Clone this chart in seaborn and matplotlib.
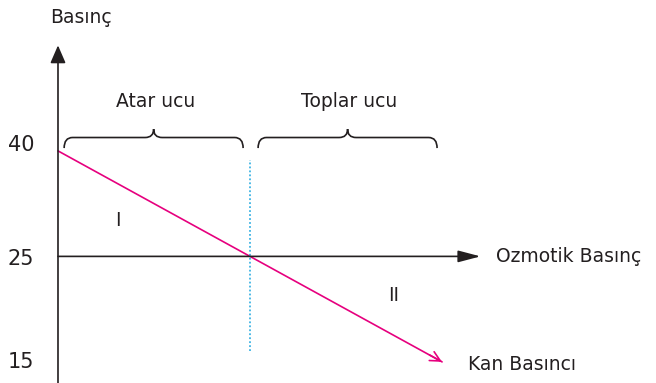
import numpy as np
import seaborn as sns
import matplotlib.pyplot as plt
from matplotlib.path import Path
from matplotlib.patches import PathPatch

# schematic values (capillary position vs pressure)
capillary_x = [0, 10]
blood_pressure = [40, 15]
osmotic_x = [0, 11]
osmotic_pressure = [25, 25]
divider_x = [5, 5]
divider_y = [38.7, 16]
pressure_ticks = [40, 25, 15]
tick_nudge = [4, -2, 0]   # points, labels sit a bit off their level in the original
region_labels = ["Atar ucu", "Toplar ucu"]
region_spans = [(0.16, 4.82), (5.21, 9.87)]

INK = "#231f20"
PINK = "#e6007e"
CYAN = "#3fb4e4"

sns.set_style("white")
plt.rcParams["font.family"] = ["DejaVu Sans"]


# the drawing is schematic: 15..25 and 25..40 take the same height
def fwd(y):
    y = np.asarray(y, dtype=float)
    return np.where(y <= 25, (y - 15) / 10, 1 + (y - 25) / 15)


def inv(d):
    d = np.asarray(d, dtype=float)
    return np.where(d <= 1, 15 + 10 * d, 25 + 15 * (d - 1))


fig = plt.figure(figsize=(6.56, 3.83), dpi=100)
ax = fig.add_axes([0, 0, 1, 1])
ax.set_yscale("function", functions=(fwd, inv))
ax.set_xlim(-1.51, 15.57)
ax.set_ylim(13, 61.45)
ax.axis("off")

# axes with arrow heads
ax.annotate("", xy=(0, 55), xytext=(0, 13),
            arrowprops=dict(arrowstyle="-|>,head_length=0.6,head_width=0.26",
                            mutation_scale=18, color=INK, lw=1.2,
                            shrinkA=0, shrinkB=0))
ax.annotate("", xy=(osmotic_x[1], osmotic_pressure[1]),
            xytext=(osmotic_x[0], osmotic_pressure[0]),
            arrowprops=dict(arrowstyle="-|>,head_length=0.76,head_width=0.2",
                            mutation_scale=18, color=INK, lw=1.2,
                            shrinkA=0, shrinkB=0))

# blood pressure line
sns.lineplot(x=capillary_x, y=blood_pressure, color=PINK, lw=1.2, ax=ax)
ax.annotate("", xy=(capillary_x[1], blood_pressure[1]), xytext=(-9, 5),
            textcoords="offset points",
            arrowprops=dict(arrowstyle="->,head_length=0.6,head_width=0.3",
                            mutation_scale=12, color=PINK, lw=1.2,
                            shrinkA=0, shrinkB=0))

# dotted divider
sns.lineplot(x=divider_x, y=divider_y, color=CYAN, lw=1.3,
             linestyle=(0, (1, 1.2)), ax=ax, orient="y")


# curly braces
def brace(x0, x1, yflat, yend, ytip, r=0.22):
    xm = (x0 + x1) / 2
    verts = [(x0, yend), (x0, yflat), (x0 + r, yflat),
             (xm - r, yflat),
             (xm, yflat), (xm, ytip),
             (xm, yflat), (xm + r, yflat),
             (x1 - r, yflat),
             (x1, yflat), (x1, yend)]
    codes = [Path.MOVETO, Path.CURVE3, Path.CURVE3,
             Path.LINETO,
             Path.CURVE3, Path.CURVE3,
             Path.CURVE3, Path.CURVE3,
             Path.LINETO,
             Path.CURVE3, Path.CURVE3]
    return PathPatch(Path(verts, codes), fill=False, ec=INK, lw=1.2)


for (x0, x1), lab in zip(region_spans, region_labels):
    ax.add_patch(brace(x0, x1, 41.9, 40.4, 43.1))
    ax.text((x0 + x1) / 2 + 0.05, 46.97, lab, ha="center", va="center",
            fontsize=13.5, color=INK)

# texts
for v, dy in zip(pressure_ticks, tick_nudge):
    ax.annotate(str(v), xy=(-0.96, v), xytext=(0, dy), textcoords="offset points",
                ha="center", va="center", fontsize=15, color=INK)

ax.text(-0.21, 58.9, "Basınç", ha="left", va="center", fontsize=13.5, color=INK)
ax.text(11.41, 25, "Ozmotik Basınç", ha="left", va="center", fontsize=13.5, color=INK)
ax.text(10.68, 14.8, "Kan Basıncı", ha="left", va="center", fontsize=13.5, color=INK)
ax.text(1.56, 30.05, "I", ha="center", va="center", fontsize=13.5, color=INK)
ax.text(8.75, 21.26, "II", ha="center", va="center", fontsize=13.5, color=INK)

fig.savefig("out.png", dpi=100)
